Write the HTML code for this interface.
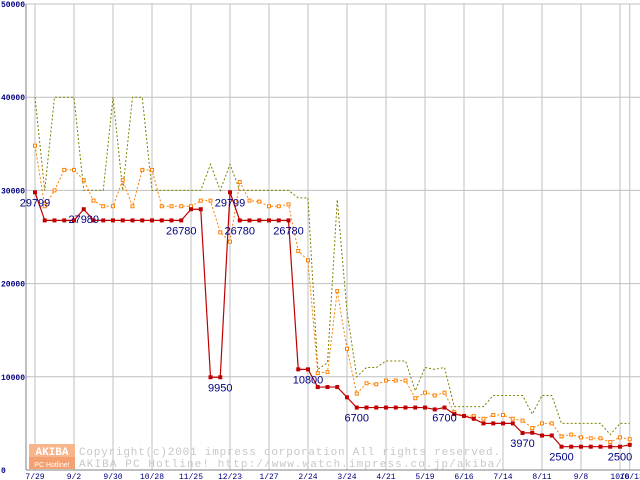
<!DOCTYPE html>
<html><head><meta charset="utf-8">
<style>
html,body{margin:0;padding:0;background:#fff;}
svg{display:block;font-family:"Liberation Sans",sans-serif;}
</style></head>
<body>
<svg id="chart" width="640" height="480" viewBox="0 0 640 480">
<g id="grid"></g>
<g id="axes"></g>
<g id="watermark">
 <rect x="29" y="444" width="46" height="13" fill="#f8b48a"/>
 <rect x="29" y="457" width="46" height="12" fill="#f4a070"/>
 <text x="52" y="455" font-size="11" font-weight="bold" fill="#fff" text-anchor="middle" font-family="Liberation Mono,monospace">AKIBA</text>
 <text x="52" y="467" font-size="7" fill="#fff" text-anchor="middle">PC Hotline!</text>
 <text x="79" y="455" font-size="11" fill="#c8c8c8" font-family="Liberation Mono,monospace" textLength="421" lengthAdjust="spacing">Copyright(c)2001 impress corporation All rights reserved.</text>
 <text x="79" y="467" font-size="11" fill="#c8c8c8" font-family="Liberation Mono,monospace" textLength="423" lengthAdjust="spacing">AKIBA PC Hotline!  http://www.watch.impress.co.jp/akiba/</text>
</g>
<g id="series"></g>
</svg>
<script>
const xLabels=["7/29","9/2","9/30","10/28","11/25","12/23","1/27","2/24","3/24","4/21","5/19","6/16","7/14","8/11","9/8","10/6"];
const yTicks=[0,10000,20000,30000,40000,50000];
const minPrice=[29799,26780,26780,26780,26780,27980,26780,26780,26780,26780,26780,26780,26780,26780,26780,26780,27980,27980,9950,9950,29799,26780,26780,26780,26780,26780,26780,10800,10800,8900,8900,8900,7800,6700,6700,6700,6700,6700,6700,6700,6700,6500,6700,6000,5800,5500,5000,5000,5000,5000,3970,4000,3700,3700,2500,2500,2500,2500,2500,2500,2500,2700];
const avgPrice=[34800,28300,30000,32200,32200,31100,28900,28300,28300,31100,28300,32200,32200,28300,28300,28300,28300,28900,28900,25500,24500,30900,28900,28800,28300,28300,28500,23500,22500,10400,10500,19200,13000,8200,9300,9200,9600,9600,9600,7700,8300,8000,8300,6200,5800,5800,5500,5900,5900,5500,5300,4500,5000,5000,3600,3800,3500,3400,3400,3000,3500,3300];
const maxPrice=[40000,30000,40000,40000,40000,30000,30000,30000,40000,30000,40000,40000,30000,30000,30000,30000,30000,30000,32800,30000,32800,30000,30000,30000,30000,30000,30000,29200,29200,10800,11500,29000,17000,10000,11000,11000,11700,11700,11700,8500,11000,10800,11000,6800,6800,6800,6800,8000,8000,8000,8000,6000,8000,8000,5000,5000,5000,5000,5000,3800,5000,5000];
const labelIdx=[0,5,15,19,20,21,26,28,33,42,50,54,60];

const NS="http://www.w3.org/2000/svg";
const X0=35,WK=9.75,Y0=470,YTOP=4,YMAX=50000,PL=26,PR=640;
const xs=i=>X0+i*WK;
const ys=v=>Y0-(v/YMAX)*(Y0-YTOP);
function mk(tag,attrs,parent){const e=document.createElementNS(NS,tag);for(const k in attrs)e.setAttribute(k,attrs[k]);parent.appendChild(e);return e;}
const grid=document.getElementById('grid'),axes=document.getElementById('axes'),ser=document.getElementById('series');

yTicks.forEach((t,i)=>{
 const y=ys(t);
 const l=mk('line',{x1:PL,x2:PR,y1:y,y2:y,stroke:'#c0c0c0','stroke-width':1},grid);
 
 
 const tx=mk('text',{x:1,y:y+3,'font-size':8,'font-weight':'bold',fill:'#000080','font-family':'Liberation Mono,monospace'},axes);
 tx.textContent=String(t);
 
 
});
xLabels.forEach((lab,i)=>{
 const x=xs(i*4);
 const l=mk('line',{x1:x,x2:x,y1:YTOP,y2:Y0,stroke:'#c0c0c0','stroke-width':1},grid);
 
 
 const tx=mk('text',{x:x,y:479,'font-size':8,fill:'#000080','text-anchor':'middle','font-family':'Liberation Mono,monospace'},axes);
 tx.textContent=lab;
 
 
});
{const x=xs(61);
 const l=mk('line',{x1:x,x2:x,y1:YTOP,y2:Y0,stroke:'#c0c0c0'},grid);
 
 
 const tx=mk('text',{x:x+2,y:479,'font-size':8,fill:'#000080','text-anchor':'middle','font-family':'Liberation Mono,monospace'},axes);
 tx.textContent="10/13";
 
 }
const ax1=mk('line',{x1:PL,x2:PL,y1:YTOP,y2:Y0,stroke:'#808080'},axes);


const ax2=mk('line',{x1:PL,x2:PR,y1:Y0,y2:Y0,stroke:'#808080'},axes);



function drawSeries(vals,color,dash,width,marker,name){
 const pts=vals.map((v,i)=>xs(i)+','+ys(v)).join(' ');
 const pl=mk('polyline',{points:pts,fill:'none',stroke:color,'stroke-width':width,'stroke-dasharray':dash},ser);
 
 
 if(marker){vals.forEach((v,i)=>{
  const r=mk('rect',{x:xs(i)-1.5,y:ys(v)-1.5,width:3,height:3,fill:marker==='fill'?color:'#fff',stroke:color,'stroke-width':1},ser);
  
  
 });}
}
drawSeries(maxPrice,'#808000','2,2',1,null,'max-price');
drawSeries(avgPrice,'#ff8000','2,2',1,'open','avg-price');
drawSeries(minPrice,'#c00000','none',1.2,'fill','min-price');
labelIdx.forEach(i=>{
 const tx=mk('text',{x:xs(i),y:ys(minPrice[i])+14,'font-size':11,fill:'#000080','text-anchor':'middle'},ser);
 tx.textContent=String(minPrice[i]);
 
 
});
</script>
</body></html>
